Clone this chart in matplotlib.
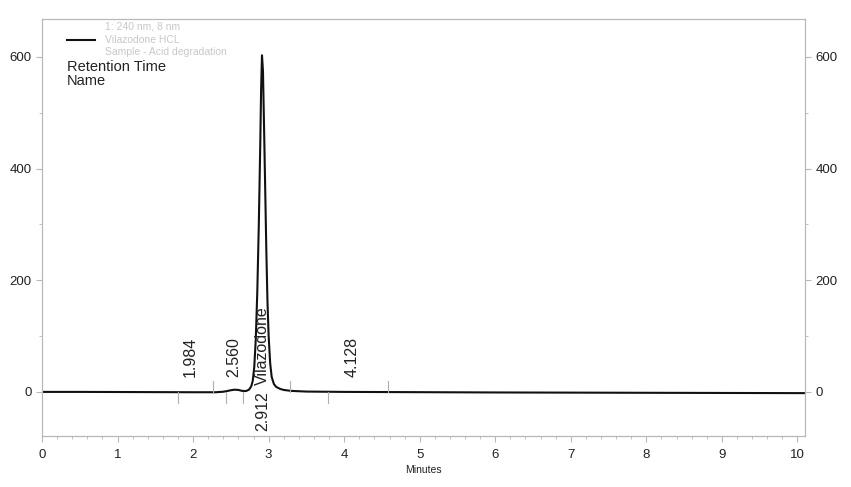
import matplotlib
matplotlib.use("Agg")
import matplotlib.pyplot as plt
from matplotlib.ticker import MultipleLocator

plt.rcParams["font.family"] = ["Liberation Sans", "DejaVu Sans"]

# ---- data ----
time_min = [0.0, 0.5, 1.0, 1.5, 2.0, 2.3, 2.4, 2.45, 2.5, 2.55, 2.6, 2.65, 2.7, 2.74,
            2.77, 2.79, 2.81, 2.83, 2.85, 2.87, 2.89, 2.90, 2.912, 2.925, 2.94, 2.955,
            2.97, 2.985, 3.0, 3.02, 3.04, 3.07, 3.10, 3.15, 3.2, 3.3, 3.5, 4.0, 5.0,
            6.0, 7.0, 8.0, 9.0, 10.1]
signal_mau = [0.0, 0.0, -0.2, -0.4, -0.6, -0.6, 0.3, 1.5, 3.0, 4.0, 3.5, 1.8, 1.5, 4.0,
              10.0, 20.0, 45.0, 95.0, 180.0, 300.0, 450.0, 540.0, 603.0, 575.0, 470.0, 360.0,
              250.0, 160.0, 100.0, 52.0, 27.0, 14.0, 9.0, 5.5, 3.5, 1.8, 0.6, 0.0, -0.5,
              -1.0, -1.3, -1.6, -1.9, -2.2]

peak_times = [1.984, 2.560, 2.912, 4.128]
peak_names = ["", "", "Vilazodone", ""]
event_times = [1.80, 2.26, 2.44, 2.66, 3.28, 3.79, 4.58]
event_side = [-1, 1, -1, -1, 1, -1, 1]

legend_lines = ["1: 240 nm, 8 nm", "Vilazodone HCL", "Sample - Acid degradation"]

x_ticks = list(range(0, 11))
y_ticks = [0, 200, 400, 600]

# ---- figure ----
fig = plt.figure(figsize=(8.51, 4.87), dpi=100)
ax = fig.add_axes([42 / 851, 1 - 436 / 487, (805 - 42) / 851, (436 - 19) / 487])
ax.set_xlim(0, 10.1)
ax.set_ylim(-79, 668)

frame_col = "#b8b8b8"
text_col = "#222222"
for s in ax.spines.values():
    s.set_color(frame_col)
    s.set_linewidth(0.9)

ax.plot(time_min, signal_mau, color="#111111", lw=1.5, solid_joinstyle="round")

# integration event markers
for t, sd in zip(event_times, event_side):
    ax.plot([t, t], [0, sd * 20], color="#b0b0b0", lw=0.8)

# peak labels
for t, nm in zip(peak_times, peak_names):
    if nm:
        ax.text(t + 0.01, 12, nm, rotation=90, ha="center", va="bottom",
                fontsize=11.5, color=text_col)
        ax.text(t + 0.01, 2, f"{t:.3f}", rotation=90, ha="center", va="top",
                fontsize=11.5, color=text_col)
    else:
        ax.text(t - 0.02, 27, f"{t:.3f}", rotation=90, ha="center", va="bottom",
                fontsize=11.5, color=text_col)

# ticks
ax.set_xticks(x_ticks)
ax.xaxis.set_minor_locator(MultipleLocator(0.2))
ax.set_yticks(y_ticks)
ax.yaxis.set_minor_locator(MultipleLocator(100))
ax.tick_params(axis="both", which="major", direction="out", length=4, width=0.8,
               color=frame_col, labelsize=9.5, labelcolor=text_col)
ax.tick_params(axis="both", which="minor", direction="out", length=2, width=0.6,
               color=frame_col)
ax.tick_params(axis="y", which="both", left=True, right=True, labelleft=True, labelright=True)
ax.tick_params(axis="x", pad=5)
ax.set_xlabel("Minutes", fontsize=7.5, color=text_col, labelpad=3)

# legend block
ax.plot([0.33, 0.70], [631, 631], color="#111111", lw=1.5)
for i, line in enumerate(legend_lines):
    ax.text(0.83, 654 - i * 23, line, fontsize=7.5, color="#c8c8c8", va="center", ha="left")
ax.text(0.33, 582, "Retention Time", fontsize=10.5, color=text_col, va="center", ha="left")
ax.text(0.33, 557, "Name", fontsize=10.5, color=text_col, va="center", ha="left")

fig.savefig("out.png", dpi=100)
